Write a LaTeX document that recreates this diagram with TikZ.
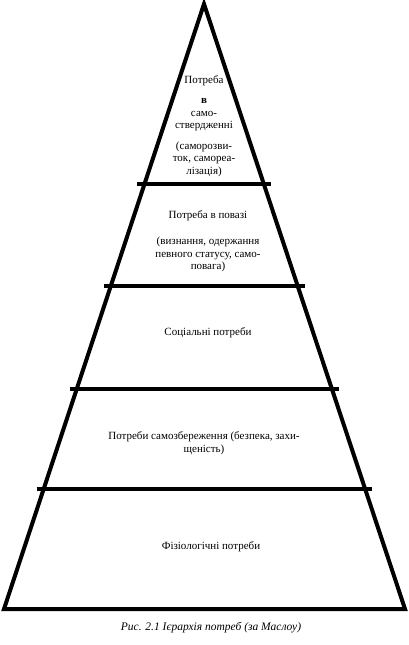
\documentclass[tikz,border=0pt]{standalone}
\usepackage{fontspec}
\setmainfont{Liberation Serif}
\usetikzlibrary{calc}
\tikzset{
	side/.style={draw=black,line width=4pt,line join=miter},
	tier/.style={draw=black,line width=3.5pt},
	need/.style={font=\fontsize{11}{12.5}\selectfont,align=center,inner sep=0pt},
	caption/.style={font=\fontsize{11.5}{13}\selectfont\itshape,inner sep=0pt},
}

\begin{document}
\begin{tikzpicture}[x=1pt,y=-1pt]
	\useasboundingbox (0,0) rectangle (408,645);
	\coordinate (apex) at (204,4);
	\coordinate (bl) at (4,609);
	\coordinate (br) at (405,609);
	\draw[side] (bl) -- (apex) -- (br) -- cycle;
	% dividers between the levels
	\foreach \y/\n in {184/1,286/2,389/3,489/4}{
		\coordinate (l\n) at ($(apex)!{(\y-4)/605}!(bl)$);
		\coordinate (r\n) at ($(apex)!{(\y-4)/605}!(br)$);
		\draw[tier] ([xshift=-7pt]l\n) -- ([xshift=7pt]r\n);
	}
	\node[need] (self) at (204,126) {Потреба\\[8pt] \textbf{в}\\ само-\\ ствердженні\\[8pt] (саморозви-\\ ток, самореа-\\ лізація)};
	\node[need] (esteem) at (208,241) {Потреба в повазі\\[14pt] (визнання, одержання\\ певного статусу, само-\\ повага)};
	\node[need] (social) at (208,333) {Соціальні потреби};
	\node[need] (safety) at (204,443) {Потреби самозбереження (безпека, захи-\\[1pt] щеність)};
	\node[need] (body) at (211,547) {Фізіологічні потреби};
	\node[caption] (cap) at (211,628) {Рис. 2.1 Ієрархія потреб (за Маслоу)};
\end{tikzpicture}
\end{document}
